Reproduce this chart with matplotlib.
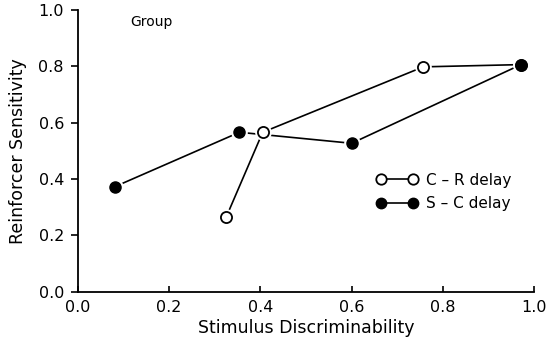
import matplotlib
matplotlib.use('Agg')
import matplotlib.pyplot as plt

# C - R delay (open circles)
cr_x = [0.325, 0.405, 0.757, 0.971]
cr_y = [0.265, 0.566, 0.798, 0.806]
# S - C delay (filled circles)
sc_x = [0.081, 0.354, 0.600, 0.971]
sc_y = [0.373, 0.566, 0.527, 0.806]

ticks = [0.0, 0.2, 0.4, 0.6, 0.8, 1.0]

fig = plt.figure(figsize=(5.6, 3.41), dpi=100)
ax = fig.add_axes([0.139, 0.144, 0.815, 0.827])

ax.plot(cr_x, cr_y, '-', color='black', lw=1.2, zorder=2)
ax.plot(sc_x, sc_y, '-', color='black', lw=1.2, zorder=2)
# white halo around markers so lines stop short of them
ax.plot(cr_x, cr_y, 'o', ms=11, color='white', zorder=3)
ax.plot(sc_x, sc_y, 'o', ms=11, color='white', zorder=3)
ax.plot(cr_x, cr_y, 'o', ms=8, mfc='white', mec='black', mew=1.3, zorder=4)
ax.plot(sc_x, sc_y, 'o', ms=8, mfc='black', mec='black', zorder=4)

h1, = ax.plot([], [], 'o-', color='black', mfc='white', mec='black', ms=7.5, lw=1.2, mew=1.3)
h2, = ax.plot([], [], 'o-', color='black', mfc='black', ms=7.5, lw=1.2)
ax.legend([h1, h2], ['C \u2013 R delay', 'S \u2013 C delay'], numpoints=2,
          frameon=False, loc='upper left', bbox_to_anchor=(0.64, 0.445),
          handlelength=2.7, handletextpad=0.6, labelspacing=0.55, fontsize=11,
          borderaxespad=0)

ax.text(0.114, 0.957, 'Group', fontsize=10, ha='left', va='center')

ax.set_xlim(0, 1.0)
ax.set_ylim(0, 1.0)
ax.set_xticks(ticks)
ax.set_yticks(ticks)
ax.set_xticklabels([f'{t:.1f}' for t in ticks])
ax.set_yticklabels([f'{t:.1f}' for t in ticks])
ax.spines['top'].set_visible(False)
ax.spines['right'].set_visible(False)
ax.spines['left'].set_linewidth(1.3)
ax.spines['bottom'].set_linewidth(1.3)
ax.tick_params(axis='x', direction='in', length=4, width=1.2, labelsize=11.5, pad=6)
ax.tick_params(axis='y', direction='out', length=5, width=1.2, labelsize=11.5, pad=5)
ax.set_xlabel('Stimulus Discriminability', fontsize=12.5, labelpad=3)
ax.set_ylabel('Reinforcer Sensitivity', fontsize=12.5, labelpad=8)

fig.savefig('out.png', dpi=100)
